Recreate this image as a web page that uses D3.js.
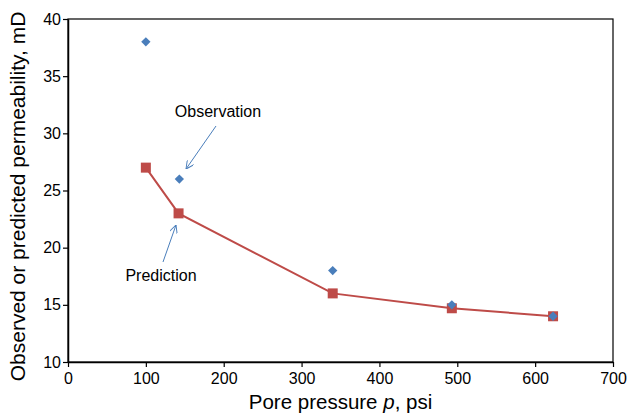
<!DOCTYPE html>
<html>
<head>
<meta charset="utf-8">
<script src="https://cdn.jsdelivr.net/npm/d3@7"></script>
<style>
  body { margin: 0; background: #fff; }
  text { font-family: "Liberation Sans", Arial, sans-serif; fill: #000; }
</style>
</head>
<body>
<svg id="chart" width="628" height="417"></svg>
<script>
// data
const pressure = [100, 143, 340, 493, 623];
const observed = [38, 26, 18, 15, 14];
const predPressure = [100, 142, 340, 493, 623];
const predicted = [27, 23, 16, 14.7, 14];
const xTicks = [0, 100, 200, 300, 400, 500, 600, 700];
const yTicks = [10, 15, 20, 25, 30, 35, 40];

const svg = d3.select('#chart');
const margin = {left: 68, top: 19, right: 15, bottom: 55};
const W = 628, H = 417;

const x = d3.scaleLinear().domain([0, 700]).range([margin.left, W - margin.right]);
const y = d3.scaleLinear().domain([10, 40]).range([H - margin.bottom, margin.top]);

// frame
svg.append('rect')
  .attr('x', x(0)).attr('y', y(40))
  .attr('width', x(700) - x(0)).attr('height', y(10) - y(40))
  .attr('fill', 'none').attr('stroke', '#000').attr('stroke-width', 1.2);

const xAxis = svg.append('g')
  .attr('transform', `translate(0,${y(10)})`)
  .call(d3.axisBottom(x).tickValues(xTicks).tickSize(5).tickSizeOuter(0));
const yAxis = svg.append('g')
  .attr('transform', `translate(${x(0)},0)`)
  .call(d3.axisLeft(y).tickValues(yTicks).tickSize(5).tickSizeOuter(0));

[xAxis, yAxis].forEach((a) => {
  a.select('.domain').attr('stroke-width', 1.5);
  a.selectAll('.tick line').attr('stroke-width', 1.2);
  a.selectAll('text').style('font-size', '16px')
    .style('font-family', '"Liberation Sans", Arial, sans-serif');
});
xAxis.selectAll('text').attr('dy', '0.9em');
yAxis.selectAll('text').attr('x', -7);

// axis titles
const xt = svg.append('text')
  .attr('x', (x(0) + x(700)) / 2).attr('y', 409)
  .attr('text-anchor', 'middle').style('font-size', '20.5px');
xt.append('tspan').text('Pore pressure ');
xt.append('tspan').attr('font-style', 'italic').text('p');
xt.append('tspan').text(', psi');

svg.append('text')
  .attr('transform', `translate(25,${(y(10) + y(40)) / 2 + 6}) rotate(-90)`)
  .attr('text-anchor', 'middle').style('font-size', '21px')
  .text('Observed or predicted permeability, mD');

// prediction line + squares
const predData = predPressure.map((p, i) => ({p, k: predicted[i]}));
svg.append('path')
  .datum(predData)
  .attr('fill', 'none').attr('stroke', '#be4b48').attr('stroke-width', 2)
  .attr('d', d3.line().x((d) => x(d.p)).y((d) => y(d.k)));

svg.selectAll('rect.pred').data(predData).join('rect')
  .attr('class', 'pred')
  .attr('x', (d) => x(d.p) - 5).attr('y', (d) => y(d.k) - 5)
  .attr('width', 10).attr('height', 10)
  .attr('fill', '#be4b48');

// observations as diamonds
const obsData = pressure.map((p, i) => ({p, k: observed[i]}));
svg.selectAll('path.obs').data(obsData).join('path')
  .attr('class', 'obs')
  .attr('d', d3.symbol().type(d3.symbolDiamond2).size(55))
  .attr('transform', (d) => `translate(${x(d.p)},${y(d.k)})`)
  .attr('fill', '#4a7ebb');

// annotations
const defs = svg.append('defs');
defs.append('marker')
  .attr('id', 'arr').attr('viewBox', '0 0 10 10')
  .attr('refX', 10).attr('refY', 5)
  .attr('markerWidth', 8).attr('markerHeight', 8)
  .attr('orient', 'auto')
  .append('path').attr('d', 'M0,0 L10,5 L0,10')
  .attr('fill', 'none').attr('stroke', '#4a7ebb').attr('stroke-width', 1.2);

svg.append('text').attr('x', 218).attr('y', 117)
  .attr('text-anchor', 'middle').style('font-size', '16px').text('Observation');
svg.append('line')
  .attr('x1', 216).attr('y1', 126).attr('x2', 186).attr('y2', 169)
  .attr('stroke', '#4a7ebb').attr('stroke-width', 1).attr('marker-end', 'url(#arr)');

svg.append('text').attr('x', 161).attr('y', 281)
  .attr('text-anchor', 'middle').style('font-size', '16px').text('Prediction');
svg.append('line')
  .attr('x1', 163).attr('y1', 262).attr('x2', 176).attr('y2', 225)
  .attr('stroke', '#4a7ebb').attr('stroke-width', 1).attr('marker-end', 'url(#arr)');
</script>
</body>
</html>
